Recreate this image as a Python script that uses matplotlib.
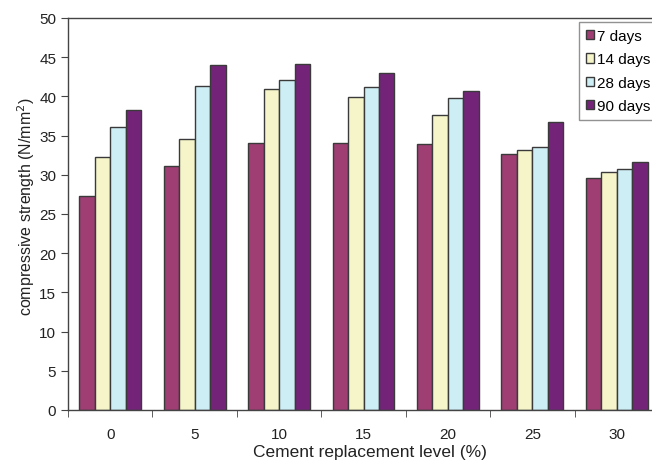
import matplotlib
matplotlib.use("Agg")
import matplotlib.pyplot as plt
import numpy as np

categories = ["0", "5", "10", "15", "20", "25", "30"]
series_names = ["7 days", "14 days", "28 days", "90 days"]
d7 = [27.3, 31.1, 34.1, 34.1, 33.9, 32.6, 29.6]
d14 = [32.3, 34.6, 40.9, 39.9, 37.6, 33.1, 30.4]
d28 = [36.1, 41.3, 42.1, 41.2, 39.8, 33.6, 30.8]
d90 = [38.3, 44.0, 44.1, 43.0, 40.7, 36.7, 31.6]
colors = ["#9E3E73", "#F5F5C9", "#CDEEF5", "#732479"]

plt.rcParams['font.family'] = ['Liberation Sans', 'DejaVu Sans']

W, H = 652, 464
fig = plt.figure(figsize=(W/100, H/100), dpi=100)
left, right, bottom, top = 68, 659, 411, 19
aw, ah = right-left, bottom-top
ax = fig.add_axes([left/W, 1-bottom/H, aw/W, ah/H])

x = np.arange(len(categories))
bw = 0.183
for i, (vals, name, c) in enumerate(zip([d7, d14, d28, d90], series_names, colors)):
    ax.bar(x + (i-1.5)*bw, vals, width=bw, color=c, edgecolor="#3a3a3a", linewidth=1.0, label=name)

ax.set_xlim(-0.5, 6.5)
ax.set_ylim(0, 50)
ax.set_yticks(np.arange(0, 51, 5))
ax.set_xticks(x)
ax.set_xticklabels(categories)
ax.tick_params(axis='x', which='major', length=0, labelsize=11, pad=12, colors="#222222")
ax.set_xticks(np.arange(-0.5, 7, 1), minor=True)
ax.tick_params(axis='x', which='minor', length=5, direction='out', color="#444444")
ax.tick_params(axis='y', length=5, direction='out', labelsize=11, color="#444444", labelcolor="#222222")
for s in ax.spines.values():
    s.set_color("#444444")
    s.set_linewidth(1.0)

xl = ax.set_xlabel("Cement replacement level (%)", fontsize=12.5, color="#222222")
xl.set_va("center")
ax.xaxis.set_label_coords((370-left)/aw, -(453-bottom)/ah)
yl = ax.set_ylabel("compressive strength (N/mm$^2$)", fontsize=11.5, color="#222222")
yl.set_va("center")
ax.yaxis.set_label_coords((26-left)/aw, (bottom-207)/ah)

leg = ax.legend(loc="upper left", bbox_to_anchor=((579-left)/aw, 1-(23-top)/ah),
                fontsize=11, frameon=True, fancybox=False, edgecolor="#777777",
                handlelength=0.55, handleheight=0.55, handletextpad=0.15, borderpad=0.45,
                labelspacing=0.62, borderaxespad=0)
leg.get_frame().set_linewidth(1.0)

fig.savefig("out.png", dpi=100)
